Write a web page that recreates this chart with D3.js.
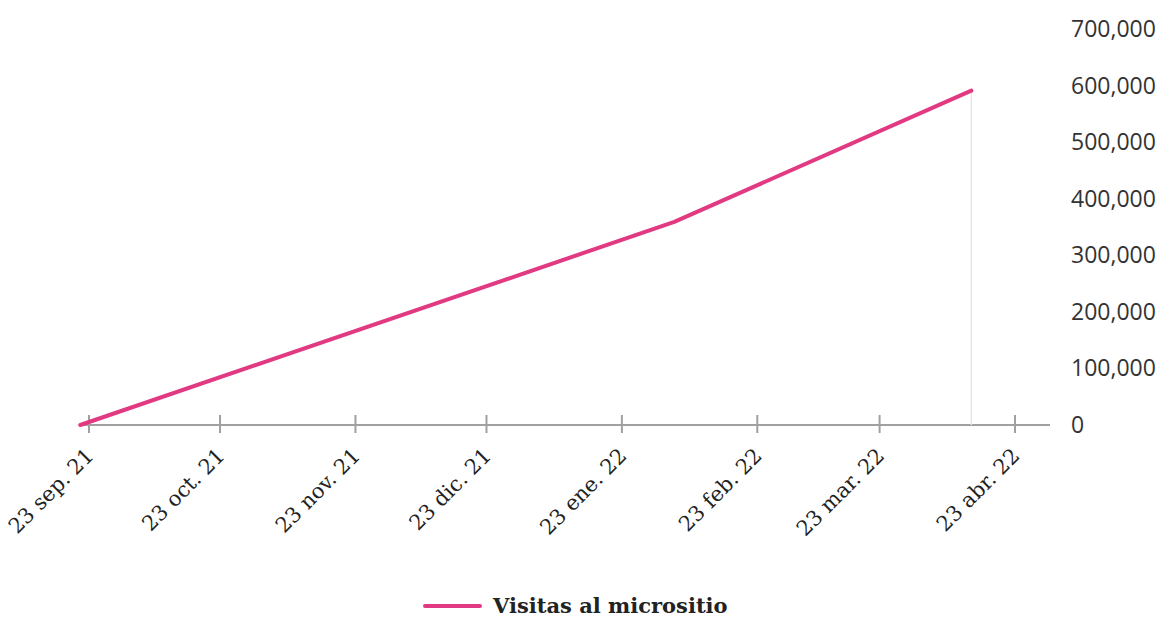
<!DOCTYPE html>
<html>
<head>
<meta charset="utf-8">
<script src="https://cdn.jsdelivr.net/npm/d3@7"></script>
<style>
  body { margin: 0; background: #fff; }
  svg { display: block; }
</style>
</head>
<body>
<svg id="chart" width="1173" height="618"></svg>
<script>
// data
var dates = ['2021-09-21', '2022-02-04', '2022-04-13'];
var visits = [0, 359000, 591000];
var tickDates = ['2021-09-23', '2021-10-23', '2021-11-23', '2021-12-23',
                 '2022-01-23', '2022-02-23', '2022-03-23', '2022-04-23'];
var monthNames = ['ene.', 'feb.', 'mar.', 'abr.', 'may.', 'jun.', 'jul.', 'ago.', 'sep.', 'oct.', 'nov.', 'dic.'];
var yTicks = [0, 100000, 200000, 300000, 400000, 500000, 600000, 700000];
var seriesName = 'Visitas al micrositio';

var parse = d3.timeParse('%Y-%m-%d');
var points = dates.map(function(d, i) { return { date: parse(d), value: visits[i] }; });

var svg = d3.select('#chart');
var lineColor = '#e23a82';

var x = d3.scaleTime()
  .domain([parse('2021-09-23'), parse('2022-04-23')])
  .range([89, 1015]);
var y = d3.scaleLinear().domain([0, 700000]).range([425, 29]);

// x axis baseline
svg.append('line')
  .attr('x1', 82).attr('x2', 1050)
  .attr('y1', y(0)).attr('y2', y(0))
  .attr('stroke', '#a0a0a0').attr('stroke-width', 2);

var xAxis = svg.append('g').selectAll('g').data(tickDates.map(parse)).join('g')
  .attr('transform', function(d) { return 'translate(' + x(d) + ',' + y(0) + ')'; });
xAxis.append('line')
  .attr('y1', -10).attr('y2', 8)
  .attr('stroke', '#a0a0a0').attr('stroke-width', 2);
xAxis.append('text')
  .attr('transform', 'translate(6,32) rotate(-45)')
  .attr('text-anchor', 'end')
  .attr('font-family', 'DejaVu Serif, serif')
  .attr('font-size', 21)
  .attr('fill', '#222')
  .text(function(d) {
    return d.getDate() + ' ' + monthNames[d.getMonth()] + ' ' + d3.timeFormat('%y')(d);
  });

// y labels on the right
svg.append('g').selectAll('text').data(yTicks).join('text')
  .attr('x', 1071)
  .attr('y', function(d) { return y(d); })
  .attr('dy', '0.35em')
  .attr('font-family', 'Open Sans, sans-serif')
  .attr('font-size', 23)
  .attr('fill', '#333')
  .text(function(d) { return d3.format(',')(d); });

// hover rule at last point
var last = points[points.length - 1];
svg.append('line')
  .attr('x1', x(last.date)).attr('x2', x(last.date))
  .attr('y1', y(last.value)).attr('y2', y(0))
  .attr('stroke', '#e6e6e6').attr('stroke-width', 1.5);

var line = d3.line()
  .x(function(d) { return x(d.date); })
  .y(function(d) { return y(d.value); });

svg.append('path')
  .datum(points)
  .attr('d', line)
  .attr('fill', 'none')
  .attr('stroke', lineColor)
  .attr('stroke-width', 4)
  .attr('stroke-linecap', 'round')
  .attr('stroke-linejoin', 'round');

// legend
var legend = svg.append('g').attr('transform', 'translate(425,606)');
legend.append('line')
  .attr('x1', 0).attr('x2', 55)
  .attr('stroke', lineColor).attr('stroke-width', 4)
  .attr('stroke-linecap', 'round');
legend.append('text')
  .attr('x', 68).attr('dy', '0.35em')
  .attr('font-family', 'DejaVu Serif, serif')
  .attr('font-weight', 'bold')
  .attr('font-size', 21)
  .attr('fill', '#222')
  .text(seriesName);
</script>
</body>
</html>
